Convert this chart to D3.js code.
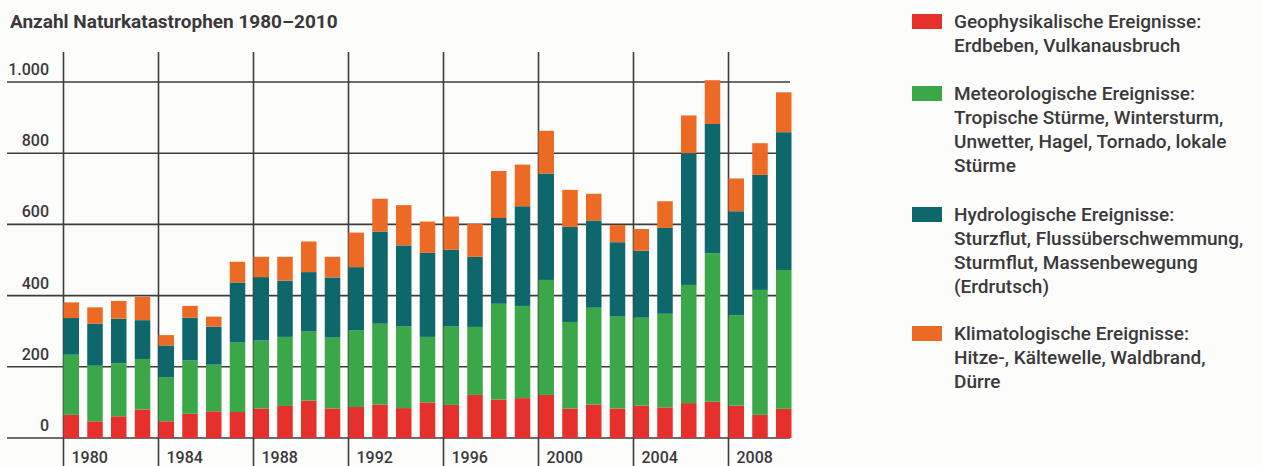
<!DOCTYPE html>
<html>
<head>
<meta charset="utf-8">
<script src="https://d3js.org/d3.v7.min.js"></script>
<style>
  body { margin: 0; background: #fcfcfa; }
  svg { display: block; }
  text { font-family: Roboto, "Liberation Sans", sans-serif; fill: #3a383a; }
</style>
</head>
<body>
<svg id="chart" width="1262" height="466"></svg>
<script>
// values per year (segment sizes, bottom to top)
var years = d3.range(1980, 2011);
var geo = [65, 47, 61, 80, 47, 68, 75, 73, 83, 90, 105, 83, 87, 94, 84, 100, 93, 121, 108, 112, 121, 83, 94, 83, 91, 86, 98, 102, 91, 65, 82];
var met = [169, 156, 149, 142, 124, 150, 131, 195, 191, 194, 194, 199, 216, 227, 229, 184, 220, 191, 269, 259, 323, 243, 272, 258, 247, 263, 332, 417, 254, 351, 390];
var hyd = [103, 118, 125, 109, 89, 120, 107, 169, 178, 158, 167, 169, 177, 259, 228, 236, 216, 197, 241, 280, 299, 267, 245, 209, 188, 241, 370, 363, 292, 323, 387];
var kli = [44, 46, 50, 65, 29, 33, 28, 58, 57, 67, 86, 58, 97, 92, 113, 88, 93, 92, 132, 117, 120, 104, 75, 48, 61, 75, 106, 123, 92, 89, 112];

var yTicks = [0, 200, 400, 600, 800, 1000];
var xTicks = [1980, 1984, 1988, 1992, 1996, 2000, 2004, 2008];

var keys = ["geo", "met", "hyd", "kli"];
var colors = ["#e5302b", "#3aa748", "#0e676b", "#ec6a24"];
var legendLines = [
  ["Geophysikalische Ereignisse:", "Erdbeben, Vulkanausbruch"],
  ["Meteorologische Ereignisse:", "Tropische Stürme, Wintersturm,", "Unwetter, Hagel, Tornado, lokale", "Stürme"],
  ["Hydrologische Ereignisse:", "Sturzflut, Flussüberschwemmung,", "Sturmflut, Massenbewegung", "(Erdrutsch)"],
  ["Klimatologische Ereignisse:", "Hitze-, Kältewelle, Waldbrand,", "Dürre"]
];

var table = years.map(function(y, i) {
  return {year: y, geo: geo[i], met: met[i], hyd: hyd[i], kli: kli[i]};
});
var series = d3.stack().keys(keys)(table);

var svg = d3.select("#chart");

var x = d3.scaleLinear().domain([1980, 2011]).range([63.5, 63.5 + 31 * 23.75]);
var y = d3.scaleLinear().domain([0, 1000]).range([438, 82]);
var barW = 15.5;

// title
svg.append("text")
  .attr("x", 10).attr("y", 28)
  .style("font-size", "19px").style("font-weight", 700)
  .text("Anzahl Naturkatastrophen 1980–2010");

// horizontal grid
svg.selectAll(".hgrid").data(yTicks).enter().append("line")
  .attr("x1", 7).attr("x2", 790)
  .attr("y1", function(d) { return y(d); })
  .attr("y2", function(d) { return y(d); })
  .attr("stroke", "#3c3c3c").attr("stroke-width", 1.6);

// vertical grid
svg.selectAll(".vgrid").data(xTicks).enter().append("line")
  .attr("x1", function(d) { return x(d); })
  .attr("x2", function(d) { return x(d); })
  .attr("y1", 52).attr("y2", 466)
  .attr("stroke", "#3c3c3c").attr("stroke-width", 1.6);

// y labels
svg.selectAll(".ylab").data(yTicks).enter().append("text")
  .attr("x", 49).attr("y", function(d) { return y(d) - 7; })
  .attr("text-anchor", "end")
  .style("font-size", "16px").style("font-weight", 500)
  .text(function(d) { return d3.format(",")(d).replace(",", "."); });

// x labels
svg.selectAll(".xlab").data(xTicks).enter().append("text")
  .attr("x", function(d) { return x(d) + 8; })
  .attr("y", 463)
  .style("font-size", "16px").style("font-weight", 500)
  .text(function(d) { return d; });

// bars
svg.selectAll(".layer").data(series).enter().append("g")
  .attr("fill", function(d, i) { return colors[i]; })
  .selectAll("rect").data(function(d) { return d; }).enter().append("rect")
  .attr("x", function(d) { return x(d.data.year); })
  .attr("width", barW)
  .attr("y", function(d) { return y(d[1]); })
  .attr("height", function(d) { return y(d[0]) - y(d[1]); });

// legend
var lineH = 24;
var groupTops = [28, 100, 221, 340];
var legend = svg.append("g");
legendLines.forEach(function(lines, i) {
  var g = legend.append("g");
  g.append("rect")
    .attr("x", 912).attr("y", groupTops[i] - 14)
    .attr("width", 30).attr("height", 15)
    .attr("fill", colors[i]);
  g.selectAll("text").data(lines).enter().append("text")
    .attr("x", 954)
    .attr("y", function(d, j) { return groupTops[i] + j * lineH; })
    .style("font-size", "19px").style("font-weight", 500)
    .text(function(d) { return d; });
});
</script>
</body>
</html>
